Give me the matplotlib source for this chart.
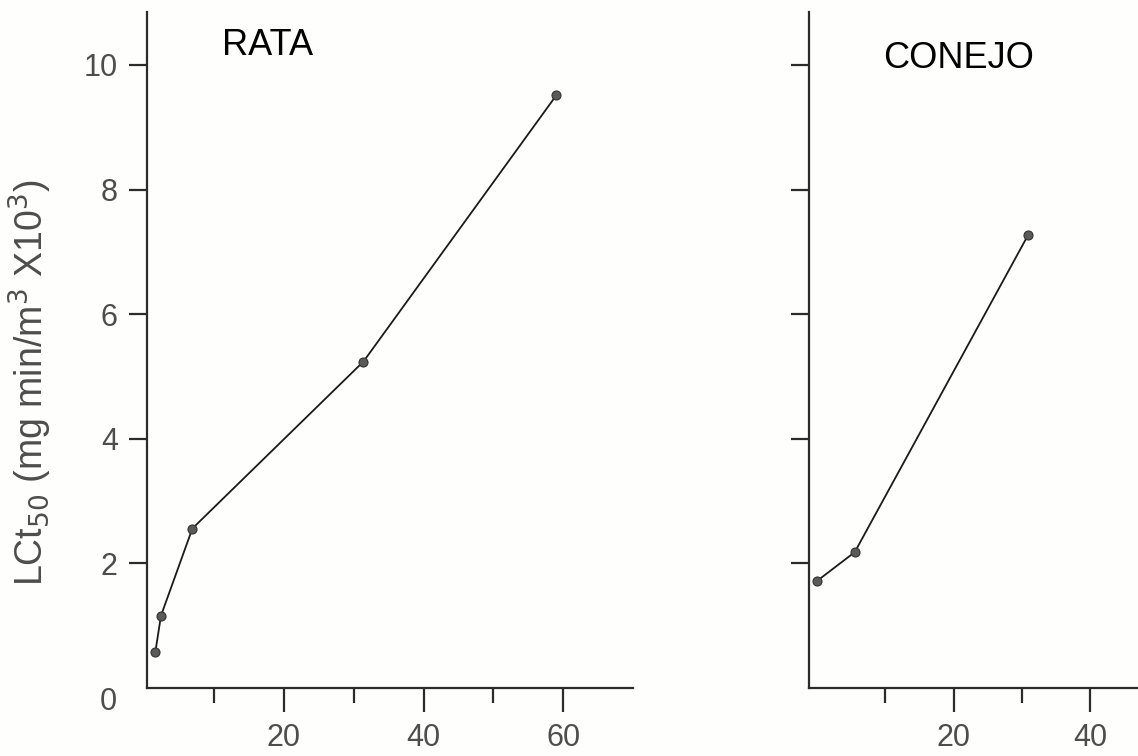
import matplotlib
matplotlib.use("Agg")
import matplotlib.pyplot as plt
import matplotlib.transforms as mtransforms

# === DADOS ===
rata_x = [1.6, 2.4, 6.9, 31.4, 59.0]
rata_y = [0.58, 1.16, 2.56, 5.24, 9.51]

conejo_x = [0.0, 5.5, 30.9]
conejo_y = [1.72, 2.18, 7.27]

yticks = [2, 4, 6, 8, 10]
rata_major = [20, 40, 60]
rata_minor = [10, 30, 50]
conejo_major = [20, 40]
conejo_minor = [10, 30]

plt.rcParams['font.family'] = ['Liberation Sans', 'DejaVu Sans']
tick_color = '#4d4d4d'
spine_color = '#2b2b2b'

fig = plt.figure(figsize=(11.38, 7.56), dpi=100)
fig.patch.set_facecolor('#fefefc')

W, H = 1138, 756
ax1 = fig.add_axes([147 / W, 1 - 688 / H, (633 - 147) / W, (688 - 12) / H])
ax2 = fig.add_axes([809 / W, 1 - 688 / H, (W - 809) / W, (688 - 12) / H])


def estilo(ax, xmaj, xmin_, xlim, labels_y):
    ax.set_facecolor('none')
    for s in ['top', 'right']:
        ax.spines[s].set_visible(False)
    for s in ['left', 'bottom']:
        ax.spines[s].set_linewidth(1.6)
        ax.spines[s].set_color(spine_color)
    ax.set_xlim(*xlim)
    ax.set_ylim(0, 10.85)
    ax.set_xticks(xmaj)
    ax.set_xticks(xmin_, minor=True)
    ax.set_xticklabels([str(v) for v in xmaj])
    ax.set_yticks(yticks)
    if labels_y:
        ax.set_yticklabels([str(v) for v in yticks])
    else:
        ax.set_yticklabels([])
    ax.tick_params(axis='x', which='major', direction='out', length=17, width=1.6,
                   color=spine_color, labelsize=22, labelcolor=tick_color, pad=8)
    ax.tick_params(axis='x', which='minor', direction='out', length=11, width=1.6,
                   color=spine_color)
    ax.tick_params(axis='y', which='major', direction='out', length=13, width=1.6,
                   color=spine_color, labelsize=22, labelcolor=tick_color, pad=8)


estilo(ax1, rata_major, rata_minor, (0.4, 70), True)
estilo(ax2, conejo_major, conejo_minor, (-1.2, 47), False)

# "0" un poco mas abajo que el eje
trans = mtransforms.blended_transform_factory(ax1.transAxes, ax1.transData)
off = mtransforms.ScaledTranslation(0, -14 / 100, fig.dpi_scale_trans)
ax1.text(-0.062, 0, '0', transform=trans + off, ha='right', va='center',
         fontsize=22, color=tick_color)

# === PLOTAR ===
for ax, xs, ys in [(ax1, rata_x, rata_y), (ax2, conejo_x, conejo_y)]:
    ax.plot(xs, ys, color='#1a1a1a', linewidth=1.3, marker='o', markersize=6.5,
            markerfacecolor='#5a5a5a', markeredgecolor='#333333', markeredgewidth=0.8,
            clip_on=False)

ax1.text(0.249, 0.951, 'RATA', transform=ax1.transAxes, ha='center', va='center',
         fontsize=26, color='black')
ax2.text(0.456, 0.931, 'CONEJO', transform=ax2.transAxes, ha='center', va='center',
         fontsize=26, color='black')

fig.text(30 / W, 1 - 383 / H, r'LCt$_{50}$ (mg min/m$^{3}$ X10$^{3}$)', rotation=90,
         ha='center', va='center', fontsize=27, color=tick_color)

fig.savefig('out.png', dpi=100, facecolor=fig.get_facecolor())
